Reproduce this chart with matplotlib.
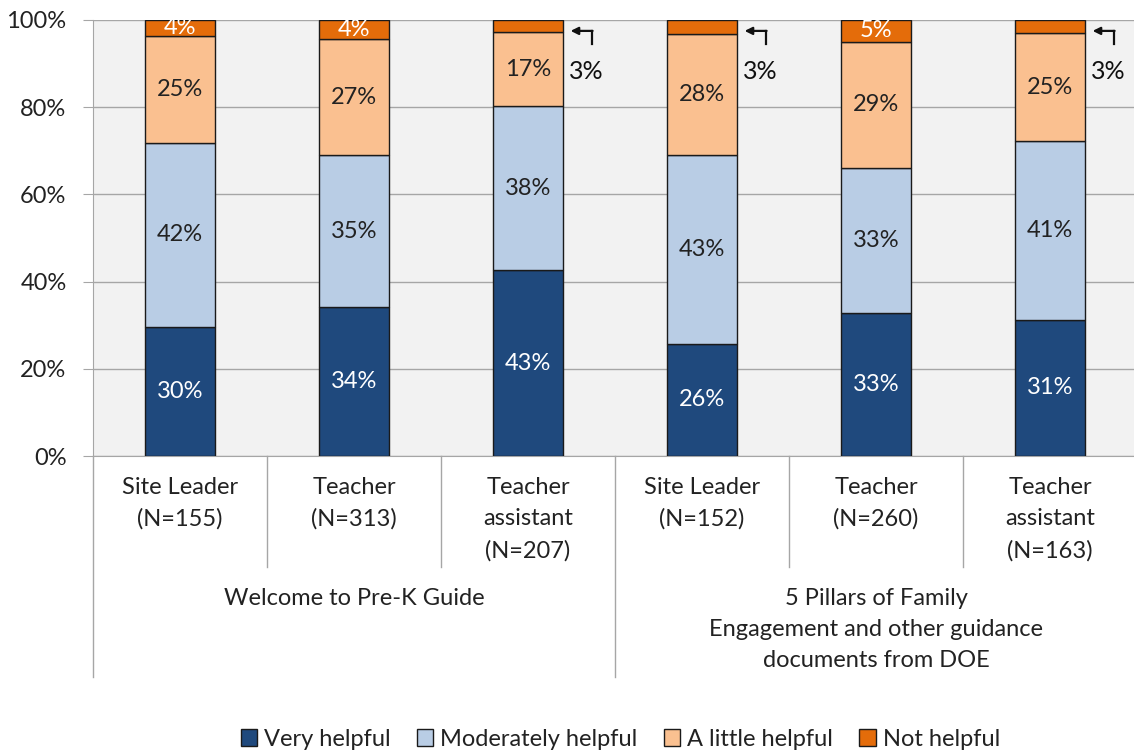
import numpy as np
import matplotlib.pyplot as plt
import matplotlib.transforms as mtransforms

plt.rcParams['font.family'] = ['Lato', 'DejaVu Sans']

roles = ["Site Leader\n(N=155)", "Teacher\n(N=313)", "Teacher\nassistant\n(N=207)",
         "Site Leader\n(N=152)", "Teacher\n(N=260)", "Teacher\nassistant\n(N=163)"]
groups = ["Welcome to Pre-K Guide",
          "5 Pillars of Family\nEngagement and other guidance\ndocuments from DOE"]
series = ["Very helpful", "Moderately helpful", "A little helpful", "Not helpful"]

very = [29.6, 34.2, 42.6, 25.7, 32.7, 31.3]
moderately = [42.2, 34.8, 37.6, 43.3, 33.4, 40.9]
little = [24.6, 26.6, 17.0, 27.8, 28.9, 24.8]
not_helpful = [3.6, 4.4, 2.8, 3.2, 5.0, 3.0]

colors = ["#1F497D", "#B9CDE5", "#FAC090", "#E46C0A"]
label_colors = ["white", "#222222", "#222222", "white"]
fs = 17

fig = plt.figure(figsize=(11.34, 7.52), dpi=100)
ax = fig.add_axes([93 / 1134, 1 - 456 / 752, 1044 / 1134, 436 / 752])
ax.set_facecolor("#F2F2F2")

x = np.arange(len(roles))
width = 0.40
bottom = np.zeros(len(roles))
for vals, name, col, lc in zip([very, moderately, little, not_helpful], series, colors, label_colors):
    vals = np.array(vals)
    ax.bar(x, vals, width, bottom=bottom, color=col, edgecolor="#1a1a1a", linewidth=1,
           label=name, zorder=3)
    for i, v in enumerate(vals):
        if v < 3.5:
            # small slice: label moved outside with a leader arrow
            xr = i + width / 2 + 0.167
            ax.plot([xr, xr], [94.6, 97.5], color="#111111", lw=1.6, zorder=4)
            ax.annotate("", xy=(i + width / 2 + 0.045, 97.5), xytext=(xr + 0.004, 97.5),
                        arrowprops=dict(arrowstyle="-|>", color="#111111", lw=1.6,
                                        mutation_scale=11, shrinkA=0, shrinkB=0))
            ax.text(i + width / 2 + 0.035, 88.3, f"{round(v):.0f}%", ha="left", va="center",
                    fontsize=18, color="#111111")
        else:
            ax.text(i, bottom[i] + v / 2, f"{round(v):.0f}%", ha="center", va="center",
                    fontsize=fs, color=lc, zorder=4)
    bottom += vals

ax.set_xlim(-0.5, 5.5)
ax.set_ylim(0, 100)
ax.set_yticks(np.arange(0, 101, 20))
ax.set_yticklabels([f"{t}%" for t in range(0, 101, 20)], fontsize=fs, color="#222222")
ax.tick_params(axis="y", length=7, color="#A6A6A6", pad=12)
ax.set_xticks([])
ax.yaxis.grid(True, color="#A6A6A6", linewidth=1, zorder=0)
for s in ["top", "right"]:
    ax.spines[s].set_visible(False)
for s in ["left", "bottom"]:
    ax.spines[s].set_color("#A6A6A6")

# category axis labels and separators
trans = mtransforms.blended_transform_factory(ax.transData, ax.transAxes)
for i, r in enumerate(roles):
    ax.text(i, -0.048, r, transform=trans, ha="center", va="top", fontsize=fs,
            color="#222222", linespacing=1.6)
for xs in [0.5, 1.5, 3.5, 4.5]:
    ax.plot([xs, xs], [0, -0.255], transform=trans, color="#A6A6A6", lw=1, clip_on=False)
for xs in [-0.5, 2.5, 5.5]:
    ax.plot([xs, xs], [0, -0.507], transform=trans, color="#A6A6A6", lw=1, clip_on=False)
for g, gx in zip(groups, [1, 4]):
    ax.text(gx, -0.302, g, transform=trans, ha="center", va="top", fontsize=fs,
            color="#222222", linespacing=1.6)

leg = fig.legend(loc="center", bbox_to_anchor=(0.547, 0.017), ncol=4, frameon=False,
                 fontsize=fs, handlelength=0.7, handleheight=0.7, handletextpad=0.3,
                 columnspacing=1.1)
for t in leg.get_texts():
    t.set_color("#222222")

fig.savefig("out.png", dpi=100)
